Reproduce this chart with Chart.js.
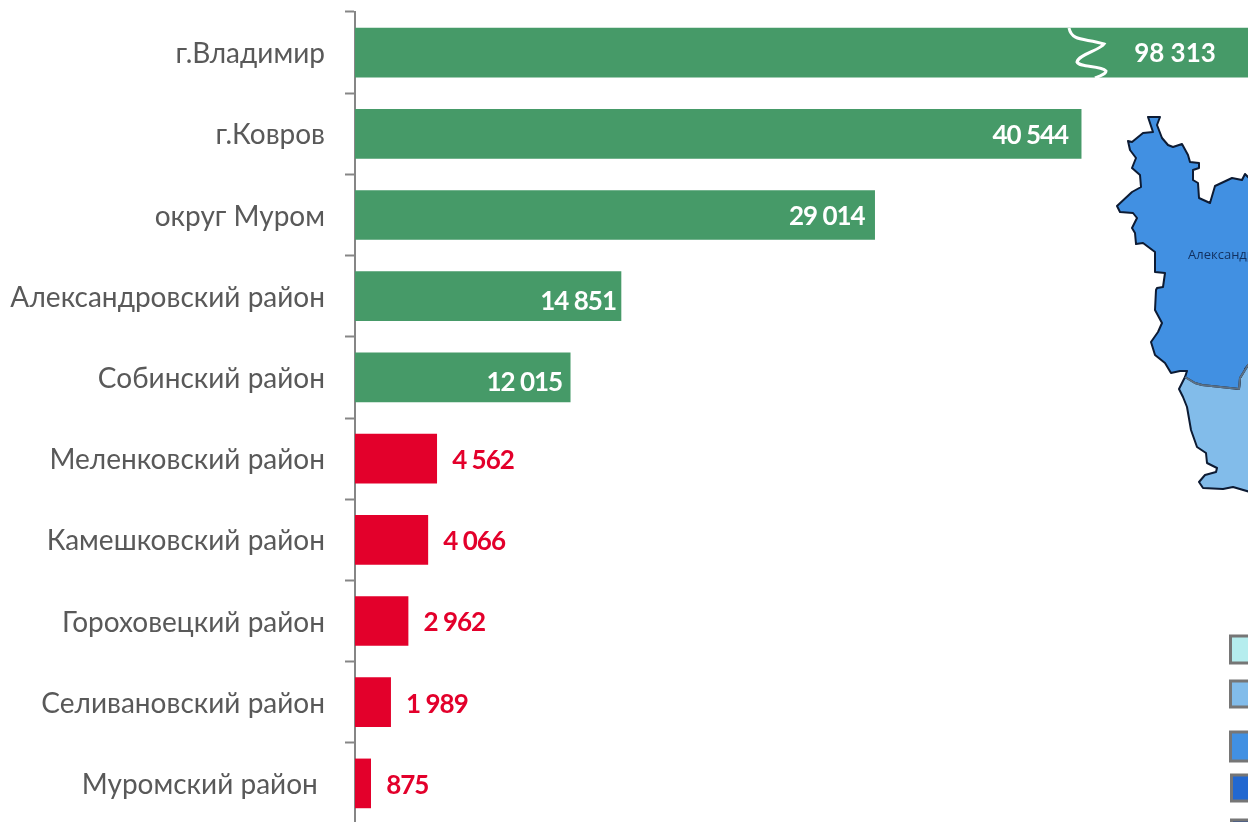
<!DOCTYPE html>
<html lang="ru">
<head>
<meta charset="utf-8">
<script src="https://cdn.jsdelivr.net/npm/chart.js@4"></script>
<style>
html,body{margin:0;padding:0;background:#fff;overflow:hidden}
#wrap{position:relative;width:1248px;height:822px;overflow:hidden}
#c{position:absolute;left:0;top:0}
#deco{position:absolute;left:0;top:0;pointer-events:none}
</style>
</head>
<body>
<div id="wrap">
<canvas id="c" width="1248" height="824" style="width:1248px;height:824px"></canvas>
<svg id="deco" width="1248" height="822" viewBox="0 0 1248 822">
  <path d="M1069,28 C1072,42 1085,38 1104,44 C1100,50 1078,55 1077,62 C1080,68 1100,65 1106,71 C1106,74 1100,76 1095,78" fill="none" stroke="#fff" stroke-width="3"/>
  <path d="M1185,377 L1179,389 L1183,397 L1187,407 L1191,430 L1197,447 L1206,453 L1207,463 L1217,468 L1216,472 L1205,475 L1199,482 L1203,488 L1223,489 L1233,487 L1250,492 L1250,360 L1240,378 L1239,389 Z" fill="#82BCEA" stroke="#0d1b33" stroke-width="2" stroke-linejoin="round"/>
  <path d="M1148,117 L1160,117 L1157,125 L1162,138 L1168,145 L1173,147 L1182,144 L1188,155 L1190,162 L1199,163 L1199,168 L1193,170 L1193,180 L1198,183 L1199,198 L1210,203 L1215,186 L1232,178 L1242,180 L1245,174 L1250,179 L1250,364 L1245,369 L1248,365 L1240,378 L1239,389 L1230,388 L1202,385 L1195,383 L1185,377 L1187,371 L1180,371 L1171,373 L1165,363 L1155,355 L1151,342 L1158,332 L1162,323 L1155,310 L1156,290 L1157,288 L1163,287 L1165,273 L1155,272 L1155,252 L1143,243 L1136,244 L1135,233 L1132,228 L1137,218 L1133,213 L1120,212 L1117,206 L1132,192 L1141,187 L1140,175 L1132,168 L1136,158 L1130,150 L1128,141 L1132,142 L1143,133 L1153,132 Z" fill="#4190E2" stroke="#0d1b33" stroke-width="2" stroke-linejoin="round"/>
  <path d="M1185,377 L1195,383 L1202,385 L1230,388 L1239,389 L1240,378 L1250,362" fill="none" stroke="#5c7186" stroke-width="2"/>
  <text x="1188" y="259" font-family="'Open Sans',sans-serif" font-size="13" fill="#12305f">Александровский</text>
  <g stroke="#767676" stroke-width="3">
    <rect x="1230.5" y="636" width="30" height="27" fill="#B5EDEE"/>
    <rect x="1230.5" y="681" width="30" height="26" fill="#82BCEA"/>
    <rect x="1230.5" y="732" width="30" height="29" fill="#4190E2"/>
    <rect x="1231.5" y="775" width="30" height="26" fill="#2268D0"/>
    <rect x="1231.5" y="820" width="30" height="26" fill="#2A4A90"/>
  </g>
</svg>
</div>
<script>
const categories = ["г.Владимир","г.Ковров","округ Муром","Александровский район","Собинский район","Меленковский район","Камешковский район","Гороховецкий район","Селивановский район","Муромский район "];
const values = [98313,40544,29014,14851,12015,4562,4066,2962,1989,875];
const valueLabels = ["98 313","40 544","29 014","14 851","12 015","4 562","4 066","2 962","1 989","875"];
const GREEN = "#469A68", RED = "#E3002B";
const barColors = values.map(v => v > 10000 ? GREEN : RED);
const axisMax = 49860;

const valueLabelPlugin = {
  id: "valueLabelPlugin",
  afterDatasetsDraw(chart) {
    const ctx = chart.ctx, meta = chart.getDatasetMeta(0);
    const insetEnd = [0, 13, 10, 5, 8];
    const drop = [1, 2, 2, 5, 5, 2, 2, 2, 2, 2];
    ctx.save();
    ctx.font = "700 26px Lato, sans-serif";
    ctx.textBaseline = "middle";
    meta.data.forEach((bar, i) => {
      const y = bar.y + drop[i];
      if (i === 0) {
        ctx.letterSpacing = "0px";
        ctx.fillStyle = "#fff"; ctx.textAlign = "center";
        ctx.fillText(valueLabels[i], 1175, y);
      } else if (i < 5) {
        ctx.letterSpacing = "-1px";
        ctx.fillStyle = "#fff"; ctx.textAlign = "right";
        ctx.fillText(valueLabels[i], bar.x - insetEnd[i], y);
      } else {
        ctx.letterSpacing = "-1px";
        ctx.fillStyle = RED; ctx.textAlign = "left";
        ctx.fillText(valueLabels[i], bar.x + 15.5, y);
      }
    });
    ctx.restore();
  }
};

new Chart(document.getElementById("c"), {
  type: "bar",
  data: { labels: categories, datasets: [{ data: values, backgroundColor: barColors, borderWidth: 0, barThickness: 49 }] },
  options: {
    indexAxis: "y",
    responsive: false,
    animation: false,
    layout: { padding: { top: 12, bottom: 0, left: 0, right: 0 } },
    plugins: { legend: { display: false }, tooltip: { enabled: false } },
    scales: {
      x: { display: false, min: 0, max: axisMax },
      y: {
        afterFit(s) { s.width = 355; s.paddingTop = 0; s.paddingBottom = 0; },
        border: { color: "#868686", width: 2 },
        grid: { drawOnChartArea: false, color: "#868686", tickLength: 10, tickWidth: 2, offset: true },
        ticks: { color: "#595959", padding: 20, autoSkip: false, labelOffset: 1.5, font: { family: "Lato, sans-serif", size: 28 } }
      }
    }
  },
  plugins: [valueLabelPlugin]
});
</script>
</body>
</html>
